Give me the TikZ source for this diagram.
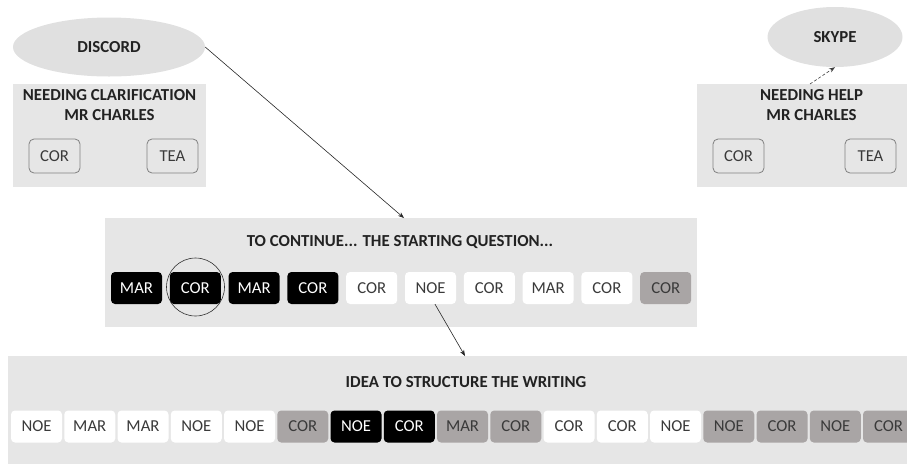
\documentclass[tikz,border=0pt]{standalone}
\usepackage{fontspec}
\setmainfont{Carlito}
\usetikzlibrary{shapes.geometric,arrows.meta}
\definecolor{boxgray}{HTML}{E6E6E6}
\definecolor{ellgray}{HTML}{E0E0E0}
\definecolor{tokgray}{HTML}{A9A5A5}
\definecolor{txtdark}{HTML}{3A3A3A}
\definecolor{ttl}{HTML}{222222}
\tikzset{
  panel/.style={rectangle, fill=boxgray, draw=none, inner sep=0pt},
  bubble/.style={ellipse, fill=ellgray, draw=none, inner sep=0pt, font=\bfseries\fontsize{16.8}{19.5}\selectfont, text=ttl},
  ttltext/.style={font=\bfseries\fontsize{16.8}{19.5}\selectfont, text=ttl, align=center, inner sep=0pt},
  tok/.style={rectangle, rounded corners=4pt, minimum width=51pt, minimum height=32pt, inner sep=0pt, font=\fontsize{16.7}{19}\selectfont},
  tw/.style={tok, fill=white, text=txtdark},
  tg/.style={tok, fill=tokgray, text=txtdark},
  tb/.style={tok, fill=black, text=white},
  smallbox/.style={rectangle, rounded corners=5pt, draw=black!50, fill=boxgray, line width=0.8pt, minimum width=51pt, minimum height=34pt, inner sep=0pt, font=\fontsize{16.7}{19}\selectfont, text=txtdark},
  conn/.style={line width=0.6pt, draw=black!85, -{Stealth[length=6pt,width=4.5pt]}},
  dconn/.style={line width=0.6pt, draw=black!75, densely dashed, -{Stealth[length=6pt,width=4.5pt]}},
}
\begin{document}
\begin{tikzpicture}[x=1pt,y=-1pt]
\useasboundingbox (0,0) rectangle (907,464);
% top left
\node[bubble, minimum width=192pt, minimum height=59pt] (discord) at (109,47) {DISCORD};
\node[panel, minimum width=193pt, minimum height=103pt] (lbox) at (109.5,135.5) {};
\node[ttltext] (ltitle) at (109.5,105) {NEEDING CLARIFICATION\\MR CHARLES};
\node[smallbox] (lcor) at (54.5,156) {COR};
\node[smallbox] (ltea) at (172.5,156) {TEA};
% top right
\node[bubble, minimum width=135pt, minimum height=60pt] (skype) at (835,37) {SKYPE};
\node[panel, minimum width=210pt, minimum height=103pt] (rbox) at (802,135.5) {};
\node[ttltext] (rtitle) at (811.5,105) {NEEDING HELP\\MR CHARLES};
\node[smallbox] (rcor) at (738.5,156) {COR};
\node[smallbox] (rtea) at (870.5,156) {TEA};
% middle
\node[panel, minimum width=592pt, minimum height=109pt] (mbox) at (401,272.5) {};
\node[ttltext] (mtitle) at (400,242) {TO CONTINUE... THE STARTING QUESTION...};
\foreach \s/\t [count=\i from 0] in {tb/MAR,tb/COR,tb/MAR,tb/COR,tw/COR,tw/NOE,tw/COR,tw/MAR,tw/COR,tg/COR}
  \node[\s] (m\i) at ({136.5+58.8*\i},288) {\t};
\node[circle, draw=black!80, line width=0.6pt, minimum size=58pt, inner sep=0pt] (ring) at (195.5,287) {};
% bottom
\node[panel, minimum width=899pt, minimum height=108pt] (bbox) at (457.5,410) {};
\node[ttltext] (btitle) at (466,382) {IDEA TO STRUCTURE THE WRITING};
\foreach \s/\t [count=\i from 0] in {tw/NOE,tw/MAR,tw/MAR,tw/NOE,tw/NOE,tg/COR,tb/NOE,tb/COR,tg/MAR,tg/COR,tw/COR,tw/COR,tw/NOE,tg/NOE,tg/COR,tg/NOE,tg/COR}
  \node[\s] (b\i) at ({36.5+53.25*\i},426.5) {\t};
% connectors
\coordinate (mtop) at (404,218);
\coordinate (btop) at (465,356);
\coordinate (rtop) at (810,84);
\draw[conn] (discord.east) -- (mtop);
\draw[conn] ([xshift=4.5pt]m5.south) -- (btop);
\draw[dconn] (rtop) -- (skype.south);
\end{tikzpicture}
\end{document}
